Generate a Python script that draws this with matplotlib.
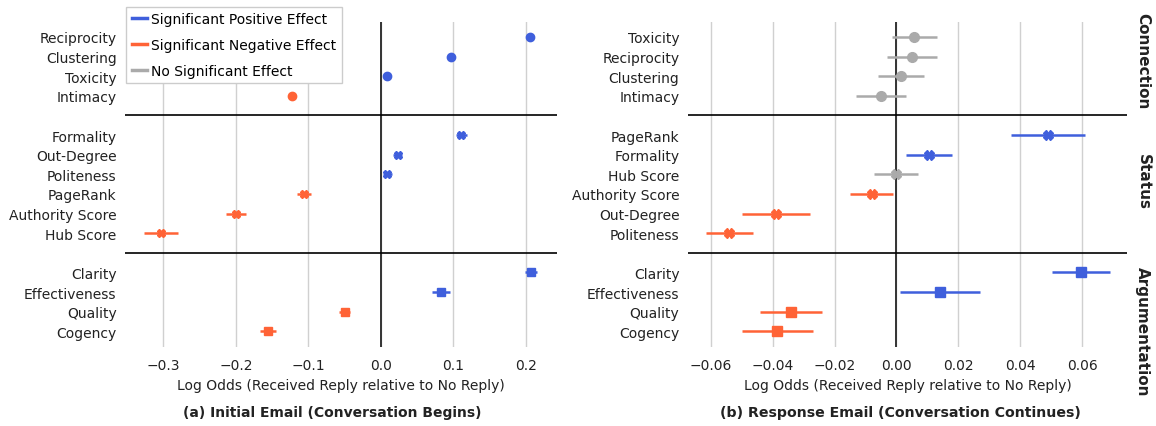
import numpy as np
import matplotlib.pyplot as plt
import matplotlib.transforms as mtransforms
from matplotlib.lines import Line2D

# group names and the number of features in each group
groups = ['Connection', 'Status', 'Argumentation']
group_sizes = [4, 6, 4]
group_markers = ['o', 'X', 's']

# (a) Initial email
left_labels = ['Reciprocity', 'Clustering', 'Toxicity', 'Intimacy',
               'Formality', 'Out-Degree', 'Politeness', 'PageRank', 'Authority Score', 'Hub Score',
               'Clarity', 'Effectiveness', 'Quality', 'Cogency']
left_est = [0.205, 0.097, 0.009, -0.123,
            0.111, 0.023, 0.009, -0.106, -0.200, -0.303,
            0.207, 0.083, -0.050, -0.155]
left_err = [0.004, 0.004, 0.004, 0.005,
            0.007, 0.006, 0.006, 0.009, 0.014, 0.023,
            0.008, 0.012, 0.008, 0.011]

# (b) Response email
right_labels = ['Toxicity', 'Reciprocity', 'Clustering', 'Intimacy',
                'PageRank', 'Formality', 'Hub Score', 'Authority Score', 'Out-Degree', 'Politeness',
                'Clarity', 'Effectiveness', 'Quality', 'Cogency']
right_est = [0.0058, 0.0050, 0.0015, -0.0050,
             0.0490, 0.0105, -0.0002, -0.0080, -0.0390, -0.0540,
             0.0596, 0.0140, -0.0340, -0.0385]
right_err = [0.0073, 0.0080, 0.0075, 0.0080,
             0.0120, 0.0075, 0.0070, 0.0070, 0.0110, 0.0075,
             0.0095, 0.0130, 0.0100, 0.0115]

left_ticks = [-0.3, -0.2, -0.1, 0.0, 0.1, 0.2]
right_ticks = [-0.06, -0.04, -0.02, 0.0, 0.02, 0.04, 0.06]

BLUE = '#3f5fdc'
ORANGE = '#ff6336'
GRAY = '#aaaaaa'


def row_positions():
    pos, start = [], 0
    for n in group_sizes:
        pos += list(range(start, start + n))
        start += n + 1
    return pos


def draw_panel(ax, labels, est, err, xlim, ticks, msize, digits):
    ys = row_positions()
    markers = []
    for g, n in enumerate(group_sizes):
        markers += [group_markers[g]] * n
    for t in ticks:
        ax.axvline(t, color='#d0d0d0', lw=1, zorder=0)
    ax.axvline(0, color='#333333', lw=1.4, zorder=1)
    sep = 0
    for n in group_sizes[:-1]:
        sep += n
        ax.axhline(sep, color='black', lw=1.2, zorder=1)
        sep += 1
    for y, e, s, m in zip(ys, est, err, markers):
        if e - s > 0:
            c = BLUE
        elif e + s < 0:
            c = ORANGE
        else:
            c = GRAY
        ax.errorbar(e, y, xerr=s, fmt=m, color=c, ms=msize, lw=1.8,
                    capsize=0, zorder=3)
    ax.set_yticks(ys)
    ax.set_yticklabels(labels, fontsize=10, color='#222222')
    ax.set_ylim(15.8, -0.78)
    ax.set_xlim(*xlim)
    ax.set_xticks(ticks)
    ax.xaxis.set_major_formatter(plt.FuncFormatter(
        lambda v, p: f'{v:.{digits}f}'.replace('-', '\u2212')))
    ax.tick_params(axis='x', length=0, pad=8, labelsize=10, labelcolor='#222222')
    ax.tick_params(axis='y', length=0, pad=6)
    for sp in ax.spines.values():
        sp.set_visible(False)
    ax.set_xlabel('Log Odds (Received Reply relative to No Reply)', fontsize=10,
                  color='#222222', labelpad=4)


fig = plt.figure(figsize=(11.56, 4.27), dpi=100)
ax1 = fig.add_axes([0.108, 0.185, 0.374, 0.762])
ax2 = fig.add_axes([0.595, 0.185, 0.380, 0.762])

draw_panel(ax1, left_labels, left_est, left_err, (-0.353, 0.243), left_ticks, 6, 1)
draw_panel(ax2, right_labels, right_est, right_err, (-0.0674, 0.0745), right_ticks, 7, 2)

handles = [Line2D([0], [0], color=BLUE, lw=2.5),
           Line2D([0], [0], color=ORANGE, lw=2.5),
           Line2D([0], [0], color=GRAY, lw=2.5)]
leg = ax1.legend(handles, ['Significant Positive Effect', 'Significant Negative Effect',
                           'No Significant Effect'],
                 loc='upper left', bbox_to_anchor=(0.003, 1.046), borderaxespad=0,
                 fontsize=10, handlelength=1.1, handletextpad=0.3, borderpad=0.4,
                 labelspacing=0.85, fancybox=False, framealpha=1)
leg.get_frame().set_edgecolor('#cccccc')
leg.get_frame().set_linewidth(1)

trans = mtransforms.blended_transform_factory(ax2.transAxes, ax2.transData)
for name, y in zip(groups, [1.17, 7.35, 14.95]):
    ax2.text(1.036, y, name, rotation=-90, fontsize=11, fontweight='bold',
             ha='center', va='center', transform=trans, clip_on=False, color='#222222')

fig.text(0.287, 0.033, '(a) Initial Email (Conversation Begins)', ha='center', va='center',
         fontsize=10, fontweight='bold', color='#222222')
fig.text(0.779, 0.033, '(b) Response Email (Conversation Continues)', ha='center', va='center',
         fontsize=10.2, fontweight='bold', color='#222222')

fig.savefig('out.png', dpi=100)
